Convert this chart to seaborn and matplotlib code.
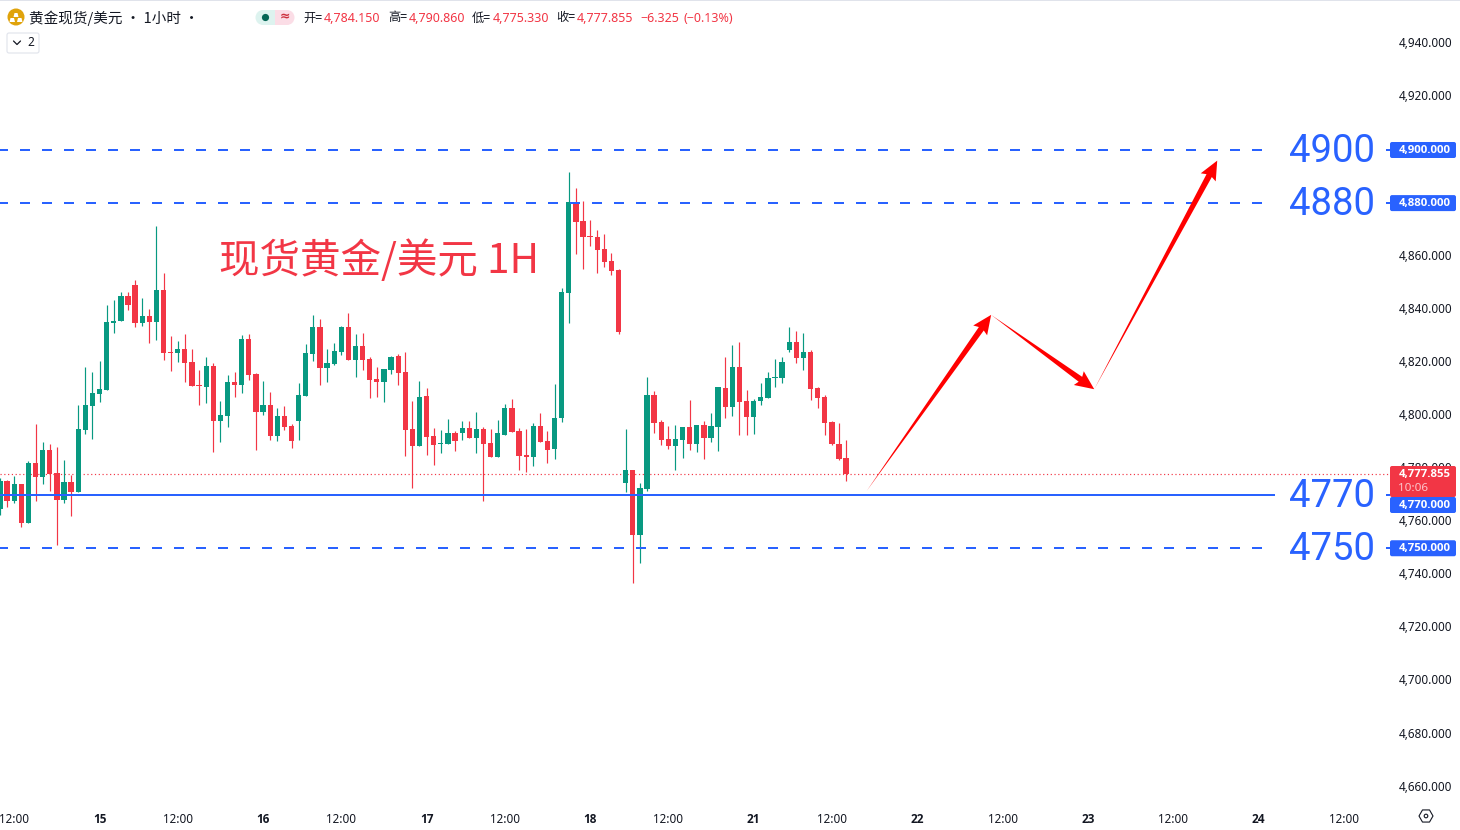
import numpy as np
import pandas as pd
import seaborn as sns
import matplotlib
matplotlib.use("Agg")
import matplotlib.pyplot as plt
from matplotlib.patches import Polygon, FancyBboxPatch, Circle, RegularPolygon, Rectangle
from matplotlib.transforms import Affine2D, IdentityTransform, ScaledTranslation

# ---------- data ----------
opens = [4764.8,4775.3,4767.8,4774.2,4759.5,4782.1,4776.8,4787.0,4778.3,4768.2,4775.0,4771.2,4794.5,4803.6,4808.1,4809.6,4834.8,4835.6,4845.0,4849.2,
         4834.8,4837.5,4835.2,4847.3,4823.9,4823.5,4825.0,4820.1,4811.5,4810.7,4818.6,4797.9,4799.8,4812.6,4811.5,4828.8,4815.6,4801.3,4804.0,4792.3,
         4799.8,4796.0,4797.9,4807.3,4823.2,4833.3,4817.9,4819.4,4823.9,4833.3,4820.9,4826.2,4821.3,4813.7,4812.6,4817.1,4822.4,4816.4,4794.9,4788.5,
         4807.3,4792.3,4789.3,4789.3,4793.4,4793.4,4795.3,4791.5,4794.9,4789.6,4784.4,4792.6,4802.8,4794.2,4785.1,4784.4,4796.0,4790.4,4787.4,4799.0,
         4846.1,4880.4,4873.3,4867.6,4867.2,4862.7,4858.2,4854.8,4774.6,4779.5,4755.0,4772.3,4807.7,4797.6,4791.1,4788.5,4790.8,4795.7,4789.3,4796.4,
         4791.5,4795.7,4810.4,4803.2,4818.3,4805.5,4799.4,4805.5,4806.6,4814.1,4814.1,4824.7,4827.7,4821.7,4823.9,4810.4,4807.0,4797.6,4789.3,4784.15]
highs = [4776.3,4775.7,4777.2,4774.2,4782.9,4796.8,4790.0,4789.3,4788.1,4783.2,4777.6,4803.9,4818.3,4816.4,4820.5,4841.6,4843.5,4846.5,4846.5,4851.0,
         4844.3,4840.1,4871.4,4853.7,4829.9,4828.1,4830.7,4825.0,4817.1,4822.0,4819.8,4805.5,4815.3,4816.4,4830.3,4830.7,4816.0,4813.0,4808.8,4802.8,
         4803.6,4796.8,4812.2,4826.9,4837.9,4836.3,4825.0,4827.3,4833.7,4838.6,4830.7,4831.1,4822.0,4818.3,4817.5,4822.4,4823.2,4823.9,4805.5,4813.0,
         4810.4,4795.3,4794.5,4798.7,4794.2,4797.9,4797.9,4801.3,4795.7,4794.9,4798.3,4804.3,4806.2,4795.3,4794.9,4797.2,4800.9,4794.2,4811.9,4848.0,
         4891.7,4885.7,4880.8,4873.6,4869.9,4868.4,4861.2,4855.2,4794.9,4779.5,4774.6,4814.5,4809.2,4798.3,4796.0,4796.4,4795.7,4805.8,4796.4,4797.9,
         4800.9,4810.7,4822.0,4826.5,4827.7,4809.6,4806.2,4812.2,4816.4,4821.3,4822.0,4833.3,4831.8,4831.1,4824.7,4810.7,4807.7,4797.9,4797.2,4790.86]
lows = [4762.5,4765.7,4767.0,4758.1,4759.5,4767.8,4774.2,4771.6,4751.2,4767.0,4762.1,4771.2,4793.0,4791.1,4805.1,4809.6,4831.1,4835.6,4839.7,4833.3,
        4833.7,4827.3,4828.4,4820.9,4816.8,4820.2,4812.6,4811.1,4803.9,4804.7,4786.2,4790.0,4795.7,4807.0,4808.5,4813.4,4787.0,4800.2,4790.8,4790.4,
        4794.5,4787.8,4790.8,4807.3,4820.5,4811.5,4812.6,4819.0,4822.8,4820.9,4814.5,4817.1,4806.6,4807.0,4805.1,4815.6,4811.5,4784.7,4772.7,4788.5,
        4785.1,4781.4,4785.9,4789.3,4786.6,4790.8,4791.5,4785.9,4767.8,4784.4,4784.4,4792.6,4793.8,4779.5,4778.7,4781.0,4790.0,4782.1,4783.6,4797.5,
        4834.8,4860.8,4855.2,4863.8,4853.7,4855.9,4852.9,4830.7,4771.2,4736.9,4744.4,4771.6,4793.4,4788.9,4787.4,4779.5,4784.0,4787.0,4786.2,4783.6,
        4790.0,4786.6,4799.1,4799.8,4792.6,4792.6,4793.0,4804.0,4806.6,4810.7,4812.2,4823.9,4819.8,4817.1,4805.8,4802.8,4792.6,4788.9,4783.2,4775.33]
closes = [4775.3,4767.8,4774.2,4759.5,4782.1,4776.8,4787.0,4778.0,4768.2,4775.0,4771.2,4794.9,4803.9,4808.5,4810.0,4835.2,4835.6,4845.0,4841.6,4834.8,
          4837.5,4835.2,4847.3,4823.5,4823.5,4825.0,4819.8,4811.1,4811.1,4818.6,4797.9,4800.2,4812.6,4811.5,4828.8,4815.3,4801.3,4804.0,4792.3,4799.8,
          4795.7,4790.4,4807.7,4823.5,4833.3,4817.9,4819.8,4824.3,4833.3,4820.9,4826.2,4820.9,4813.4,4812.6,4817.5,4822.0,4816.0,4794.5,4788.5,4807.0,
          4791.9,4788.9,4789.6,4793.4,4790.4,4795.3,4791.5,4794.9,4789.3,4784.4,4793.4,4802.8,4793.8,4784.7,4784.4,4796.0,4790.0,4787.0,4799.0,4846.5,
          4880.4,4872.9,4867.2,4867.2,4862.3,4857.8,4854.4,4831.4,4779.5,4755.0,4772.7,4807.7,4797.2,4790.8,4788.5,4791.1,4795.7,4789.3,4796.4,4791.5,
          4796.0,4810.7,4803.2,4818.3,4805.1,4799.4,4805.5,4807.0,4814.1,4814.5,4820.2,4827.7,4821.7,4823.9,4810.0,4806.6,4797.2,4789.3,4783.6,4777.855]

price_ticks = list(range(4660, 4941, 20))
time_ticks = [2, 14, 25, 37, 48, 60, 71, 83, 94, 106, 117, 129, 141, 153, 165, 177, 189]
time_labels = ["12:00", "15", "12:00", "16", "12:00", "17", "12:00", "18", "12:00", "21",
               "12:00", "22", "12:00", "23", "12:00", "24", "12:00"]
dashed_levels = [4900, 4880, 4750]
solid_level = 4770
last_price = 4777.855
route_bars = [121.9, 139.4, 153.9, 171.2]
route_prices = [4771.6, 4837.9, 4809.9, 4896.0]

GREEN, RED, BLUE = "#089981", "#F23645", "#2962FF"
W, H = 1460, 830
BAR_PX = 7.11
AX_R, AX_B = 1390, 800

sns.set_theme(style="white")
plt.rcParams["font.family"] = ["Noto Sans CJK SC", "DejaVu Sans"]
plt.rcParams["axes.unicode_minus"] = False

fig = plt.figure(figsize=(W / 100, H / 100), dpi=100, facecolor="white")
ax = fig.add_axes([0, 1 - AX_B / H, AX_R / W, AX_B / H])
px = Affine2D().scale(1 / W, -1 / H).translate(0, 1) + fig.transFigure

df = pd.DataFrame({"open": opens, "high": highs, "low": lows, "close": closes})
df["i"] = np.arange(len(df))
df["up"] = df["close"] >= df["open"]
df["bottom"] = df[["open", "close"]].min(axis=1)
df["height"] = (df["close"] - df["open"]).abs().clip(lower=0.4)

for up, colour in ((True, GREEN), (False, RED)):
    part = df[df["up"] == up]
    ax.vlines(part["i"], part["low"], part["high"], color=colour, lw=0.85, zorder=2, snap=True)
    sns.barplot(data=part, x="i", y="height", bottom=part["bottom"].values, native_scale=True,
                width=0.74, color=colour, saturation=1, errorbar=None, linewidth=0,
                ax=ax, zorder=3)

ax.set_xlim(0, AX_R / BAR_PX)
ax.set_ylim(4900 - (AX_B - 150) / 2.655, 4900 + 150 / 2.655)
ax.set_xlabel("")
ax.set_ylabel("")
for s in ax.spines.values():
    s.set_visible(False)

ax.yaxis.tick_right()
ax.set_yticks(price_ticks)
ax.set_yticklabels([f"{p:,.3f}" for p in price_ticks], fontsize=8.45, color="#131722", family="Noto Sans")
ax.set_xticks(time_ticks)
ax.set_xticklabels(time_labels, fontsize=8.45, color="#131722", family="Noto Sans")
for lab, txt in zip(ax.get_xticklabels(), time_labels):
    if ":" not in txt:
        lab.set_family("Open Sans")
        lab.set_fontweight("bold")
ax.tick_params(axis="y", length=0, pad=5.8)
ax.tick_params(axis="x", length=0, pad=9)
ax.grid(False)
shift = ScaledTranslation(0.5 / 72, 1.1 / 72, fig.dpi_scale_trans)
for lab in ax.get_yticklabels():
    lab.set_transform(lab.get_transform() + shift)

# horizontal levels, stopping where the big labels begin
gap_end = 1275 / BAR_PX
dash_end = 1268 / BAR_PX
stub = 1386 / BAR_PX
for lv in dashed_levels:
    ax.hlines(lv, 0, dash_end, color=BLUE, lw=1.44, linestyles=[(1, (5, 6))], zorder=4)
    ax.hlines(lv, stub, AX_R / BAR_PX, color=BLUE, lw=1.44, zorder=4)
ax.hlines(solid_level, 0, gap_end, color=BLUE, lw=1.44, zorder=4)
ax.hlines(solid_level, stub, AX_R / BAR_PX, color=BLUE, lw=1.44, zorder=4)
ax.hlines(last_price, 0, AX_R / BAR_PX, color=RED, lw=0.85, linestyles=[(0, (1, 2.2))], zorder=1.5)

# big level labels
for lv in dashed_levels + [solid_level]:
    ax.annotate(str(lv), (1374.5 / BAR_PX, lv), xytext=(0, 1.7), textcoords="offset points",
                color=BLUE, fontsize=27.5, family="Roboto", ha="right", va="center_baseline", zorder=6)

# title
ax.annotate("现货黄金/美元 1H", (219 / BAR_PX, 4900 - (259 - 150) / 2.655), xytext=(0, -1.2),
            textcoords="offset points", color=RED, fontsize=29.2, ha="left", va="center", zorder=6)

# tapered route arrows
fig.canvas.draw()
pts = ax.transData.transform(np.column_stack([route_bars, route_prices]))
for a, b in zip(pts[:-1], pts[1:]):
    d = (b - a) / np.linalg.norm(b - a)
    n = np.array([-d[1], d[0]])
    base = b - d * 17
    head = b - d * 19
    poly = [a, base + n * 3.0, head + n * 8.5, b, head - n * 8.5, base - n * 3.0]
    ax.add_patch(Polygon(poly, closed=True, fc="#FF0000", ec="none", transform=IdentityTransform(),
                         zorder=5, clip_on=False))

# price badges on the scale
def badge(x0, y0, x1, y1, colour):
    fig.add_artist(FancyBboxPatch((x0 + 2, y0 + 2), x1 - x0 - 4, y1 - y0 - 4,
                                  boxstyle="round,pad=2,rounding_size=2", fc=colour, ec="none",
                                  transform=px, zorder=4))

def ptext(x, y, s, colour="#131722", size=8.6, ha="left", fam=None, weight="normal"):
    fig.text(x, y, s, transform=px, color=colour, fontsize=size, ha=ha, va="center",
             family=fam or ["Noto Sans CJK SC", "DejaVu Sans"], weight=weight, zorder=6)

for lv in [4900, 4880, 4750]:
    yy = 150 + (4900 - lv) * 2.655
    badge(1390, yy - 8, 1456, yy + 8, BLUE)
    ptext(1451, yy, f"{lv:,.3f}", "white", 8.2, "right", "Open Sans", "bold")
badge(1390, 466, 1456, 497, RED)
ptext(1451, 474, f"{last_price:,.3f}", "white", 8.2, "right", "Open Sans", "bold")
ptext(1398, 488, "10:06", "#FBC4CA", 8.4, "left", "Noto Sans")
badge(1390, 497, 1456, 513, BLUE)
ptext(1451, 505, "4,770.000", "white", 8.2, "right", "Open Sans", "bold")

# header
fig.add_artist(Rectangle((0, 0), W, 1, fc="#E0E3EB", ec="none", transform=px, zorder=1))
fig.add_artist(Circle((16, 17), 8.5, fc="#E0A30B", ec="none", transform=px, zorder=4))
for xs, ys in (((13.5, 18.5, 17.5, 14.5), (17, 17, 13, 13)),
               ((9.5, 15, 14, 10.5), (22, 22, 18, 18)),
               ((17, 22.5, 21.5, 18), (22, 22, 18, 18))):
    fig.add_artist(Polygon(np.column_stack([xs, ys]), closed=True, fc="white", ec="none",
                           transform=px, zorder=5))
ptext(29, 18, "黄金现货/美元 · 1小时 ·", "#131722", 10.5)

fig.add_artist(Rectangle((263, 10), 12, 15, fc="#DDF3EF", ec="none", transform=px, zorder=4))
fig.add_artist(Rectangle((275, 10), 12, 15, fc="#FBDDE6", ec="none", transform=px, zorder=4))
fig.add_artist(Circle((263, 17.5), 7.5, fc="#DDF3EF", ec="none", transform=px, zorder=4))
fig.add_artist(Circle((287, 17.5), 7.5, fc="#FBDDE6", ec="none", transform=px, zorder=4))
fig.add_artist(Circle((265.5, 17.5), 3.6, fc="#056656", ec="none", transform=px, zorder=5))
ptext(285, 17, "≈", "#CC2F3C", 9, "center", "DejaVu Sans", "bold")

for x, s in ((303, "开="), (388, "高="), (472, "低="), (556, "收=")):
    ptext(x, 18, s, "#131722", 8.8)
for x, s in ((324, "4,784.150"), (409, "4,790.860"), (493, "4,775.330"), (577, "4,777.855"),
             (640, "−6.325"), (684, "(−0.13%)")):
    ptext(x, 18, s, RED, 9.0, fam=["Noto Sans", "DejaVu Sans"])

fig.add_artist(FancyBboxPatch((9, 35), 28, 16, boxstyle="round,pad=2,rounding_size=2", fc="white",
                              ec="#E0E3EB", lw=0.8, transform=px, zorder=4))
fig.add_artist(plt.Line2D([13.5, 17, 20.5], [41, 44.5, 41], color="#131722", lw=0.9, transform=px, zorder=5))
ptext(27, 43, "2", "#131722", 8.6, fam="Noto Sans")

# settings glyph
fig.add_artist(RegularPolygon((1426, 816), 6, radius=7, orientation=np.pi / 6, fc="white", ec="#131722",
                              lw=0.8, transform=px, zorder=4))
fig.add_artist(Circle((1426, 816), 1.8, fc="white", ec="#131722", lw=0.8, transform=px, zorder=5))

fig.savefig("out.png", dpi=100, facecolor="white")
